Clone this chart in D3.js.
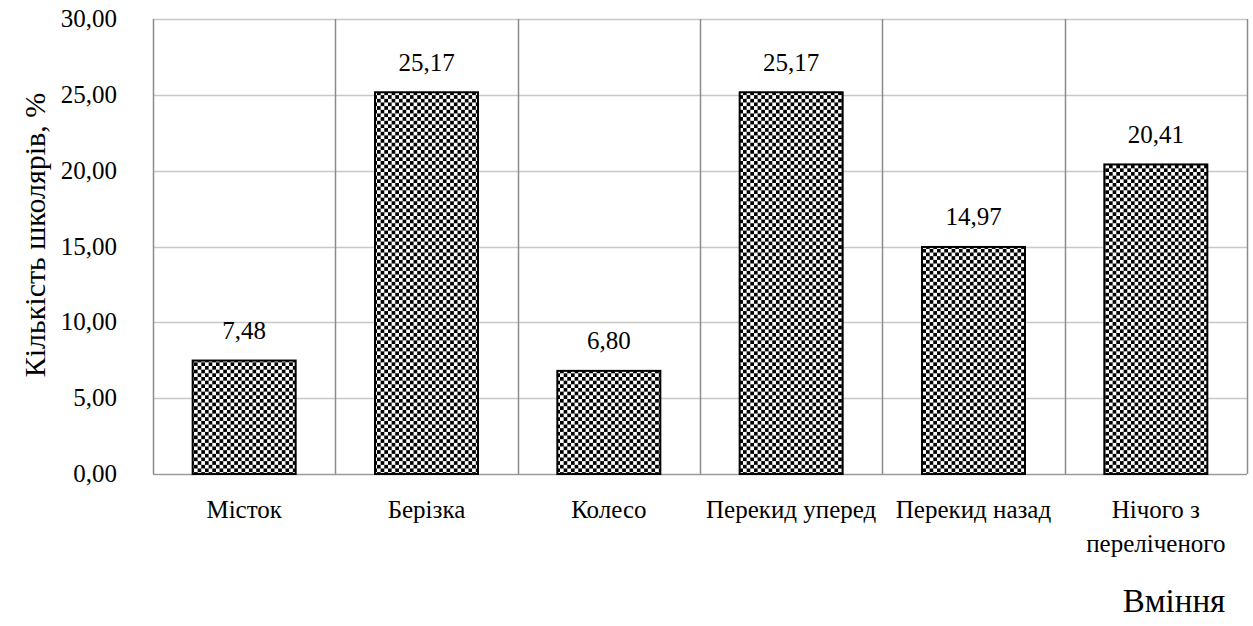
<!DOCTYPE html>
<html><head><meta charset="utf-8">
<script src="https://cdn.jsdelivr.net/npm/d3@7"></script>
<style>html,body{margin:0;padding:0;background:#fff;}svg{display:block;}
svg text{font-family:"Liberation Serif","Times New Roman",serif;fill:#000;}</style>
</head><body>
<script>
const categories = [["Місток"],["Берізка"],["Колесо"],["Перекид уперед"],["Перекид назад"],["Нічого з","переліченого"]];
const values = [7.48, 25.17, 6.80, 25.17, 14.97, 20.41];
const yTicks = [0,5,10,15,20,25,30];
const yTitle = "Кількість школярів, %";
const xTitle = "Вміння";

const W=1253,H=626;
const m={left:153,right:1247,top:19,bottom:474};
const svg=d3.select("body").append("svg").attr("width",W).attr("height",H);
const defs=svg.append("defs");
const c=3.66;
const pat=defs.append("pattern").attr("id","chk").attr("patternUnits","userSpaceOnUse")
  .attr("width",2*c).attr("height",2*c);
pat.append("rect").attr("width",2*c).attr("height",2*c).attr("fill","#fff");
pat.append("rect").attr("width",c).attr("height",c).attr("fill","#000");
pat.append("rect").attr("x",c).attr("y",c).attr("width",c).attr("height",c).attr("fill","#000");

const x=d3.scaleBand().domain(d3.range(categories.length)).range([m.left,m.right]).paddingInner(0).paddingOuter(0);
const y=d3.scaleLinear().domain([0,30]).range([m.bottom,m.top]);
const fmt=v=>d3.format(".2f")(v).replace(".",",");
const fs=25;

// horizontal grid
svg.append("g").selectAll("line").data(yTicks).join("line")
  .attr("x1",m.left).attr("x2",m.right).attr("y1",d=>Math.round(y(d))+0.5).attr("y2",d=>Math.round(y(d))+0.5)
  .attr("stroke",d=>d===0?"#9a9a9a":"#c8c8c8").attr("stroke-width",1.5);
// vertical grid
const vx=d3.range(categories.length+1).map(i=>i<categories.length?x(i):m.right);
svg.append("g").selectAll("line").data(vx).join("line")
  .attr("x1",d=>Math.round(d)+0.5).attr("x2",d=>Math.round(d)+0.5).attr("y1",m.top).attr("y2",m.bottom)
  .attr("stroke","#8c8c8c").attr("stroke-width",1.5);

// y tick labels
svg.append("g").selectAll("text").data(yTicks).join("text")
  .attr("x",117).attr("y",d=>y(d)+8).attr("text-anchor","end").attr("font-size",fs)
  .text(fmt);

// bars
const bw=103;
svg.append("g").selectAll("rect").data(values).join("rect")
  .attr("x",(d,i)=>x(i)+x.bandwidth()/2-bw/2).attr("width",bw)
  .attr("y",d=>y(d)).attr("height",d=>y(0)-y(d))
  .attr("fill","url(#chk)").attr("stroke","#000").attr("stroke-width",2);

// value labels
svg.append("g").selectAll("text").data(values).join("text")
  .attr("x",(d,i)=>x(i)+x.bandwidth()/2).attr("y",d=>y(d)-21.5)
  .attr("text-anchor","middle").attr("font-size",fs).text(fmt);

// category labels
const cl=svg.append("g").selectAll("text").data(categories).join("text")
  .attr("x",(d,i)=>x(i)+x.bandwidth()/2).attr("y",518)
  .attr("text-anchor","middle").attr("font-size",fs);
cl.selectAll("tspan").data(d=>d).join("tspan")
  .attr("x",function(){return this.parentNode.getAttribute("x");})
  .attr("dy",(d,i)=>i===0?0:34).text(d=>d);

// axis titles
svg.append("text").attr("transform","translate(45,235) rotate(-90)")
  .attr("text-anchor","middle").attr("font-size",30).text(yTitle);
svg.append("text").attr("x",1174).attr("y",612).attr("text-anchor","middle").attr("font-size",33).text(xTitle);
</script>
</body></html>
